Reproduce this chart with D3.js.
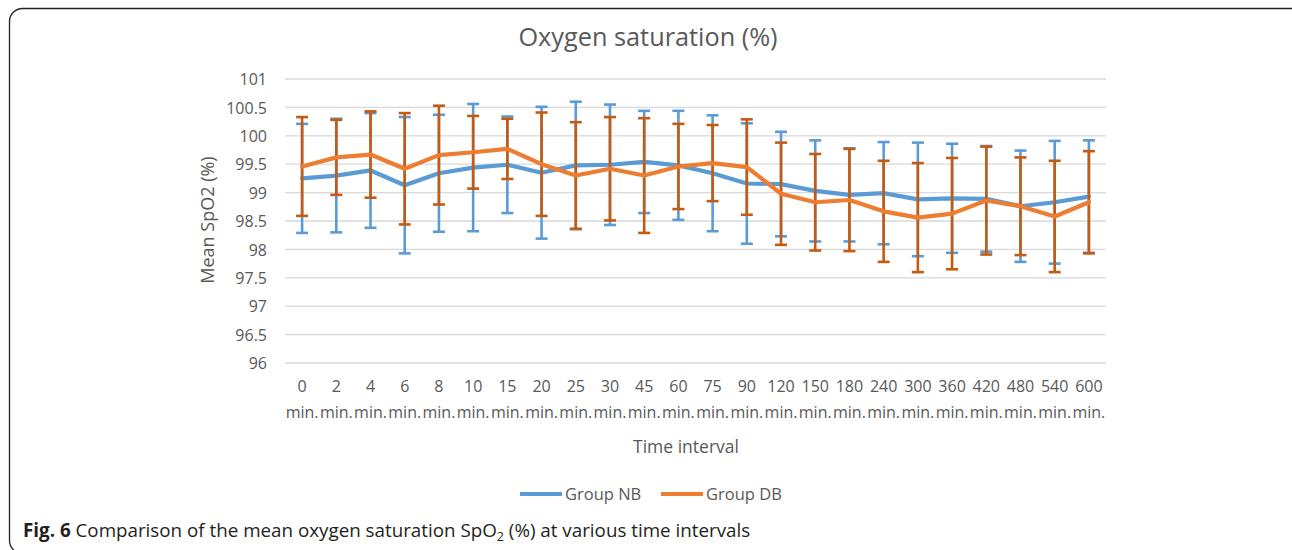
<!DOCTYPE html>
<html>
<head>
<meta charset="utf-8">
<script src="https://cdn.jsdelivr.net/npm/d3@7"></script>
<style>
  html, body { margin: 0; padding: 0; background: #fff; }
  svg { display: block; }
  text { font-family: "Open Sans", "DejaVu Sans", sans-serif; }
</style>
</head>
<body>
<svg id="chart" width="1292" height="550"></svg>
<script>
// ---- Data ----
const categories = ["0", "2", "4", "6", "8", "10", "15", "20", "25", "30", "45", "60", "75", "90",
  "120", "150", "180", "240", "300", "360", "420", "480", "540", "600"];
const nbMean = [99.25, 99.30, 99.39, 99.13, 99.34, 99.44, 99.49, 99.35, 99.48, 99.49, 99.54, 99.48,
  99.34, 99.16, 99.15, 99.03, 98.96, 98.99, 98.88, 98.90, 98.89, 98.76, 98.83, 98.93];
const nbSD = [0.96, 1.00, 1.01, 1.20, 1.03, 1.12, 0.85, 1.16, 1.12, 1.06, 0.90, 0.96,
  1.02, 1.06, 0.92, 0.89, 0.82, 0.90, 1.00, 0.96, 0.93, 0.98, 1.08, 0.99];
const dbMean = [99.46, 99.62, 99.67, 99.42, 99.66, 99.71, 99.77, 99.50, 99.30, 99.42, 99.30, 99.46,
  99.52, 99.45, 98.98, 98.83, 98.87, 98.67, 98.56, 98.63, 98.86, 98.76, 98.58, 98.83];
const dbSD = [0.87, 0.66, 0.76, 0.98, 0.87, 0.64, 0.53, 0.91, 0.94, 0.91, 1.01, 0.75,
  0.67, 0.84, 0.90, 0.85, 0.90, 0.89, 0.96, 0.98, 0.95, 0.86, 0.98, 0.90];
const yTicks = [96, 96.5, 97, 97.5, 98, 98.5, 99, 99.5, 100, 100.5, 101];
const seriesNames = ["Group NB", "Group DB"];

// ---- Layout ----
const svg = d3.select("#chart");
const plot = { left: 285, right: 1106, top: 79, bottom: 363 };
const colNB = "#5B9BD5", colDB = "#ED7D31", colDBerr = "#C55A11";
const textCol = "#595959";

// Border
svg.append("rect")
  .attr("x", 9.5).attr("y", 8.5).attr("width", 1300).attr("height", 545)
  .attr("rx", 13).attr("ry", 13)
  .attr("fill", "none").attr("stroke", "#222").attr("stroke-width", 1.3);

const x = d3.scaleBand().domain(categories).range([plot.left, plot.right]).padding(0);
const y = d3.scaleLinear().domain([96, 101]).range([plot.bottom, plot.top]);

// Gridlines
svg.append("g").selectAll("line").data(yTicks).join("line")
  .attr("x1", plot.left).attr("x2", plot.right)
  .attr("y1", d => y(d)).attr("y2", d => y(d))
  .attr("stroke", "#D9D9D9").attr("stroke-width", 1.3);

// Y axis labels
const yAxis = d3.axisLeft(y).tickValues(yTicks).tickSize(0).tickPadding(0)
  .tickFormat(d => String(d));
const gy = svg.append("g").attr("transform", `translate(${plot.left - 18},0)`).call(yAxis);
gy.select(".domain").remove();
gy.selectAll("text").attr("fill", textCol).style("font-size", "16px")
  .style("font-family", '"Open Sans", sans-serif').attr("dy", "0.35em");

// X axis labels
const xAxis = d3.axisBottom(x).tickSize(0).tickFormat("");
const gx = svg.append("g").attr("transform", `translate(0,${plot.bottom})`).call(xAxis);
gx.select(".domain").remove();
gx.selectAll(".tick").each(function(d) {
  const t = d3.select(this).append("text").attr("fill", textCol)
    .style("font-size", "16px").attr("text-anchor", "middle");
  t.append("tspan").attr("x", 0).attr("y", 29).text(d);
  t.append("tspan").attr("x", 0).attr("y", 55).text("min.");
});

// Axis titles
svg.append("text").attr("x", 686).attr("y", 453).attr("text-anchor", "middle")
  .attr("fill", textCol).style("font-size", "17.5px").text("Time interval");
svg.append("text").attr("transform", `translate(214,${(plot.top + plot.bottom) / 2 - 1}) rotate(-90)`)
  .attr("text-anchor", "middle").attr("fill", textCol).style("font-size", "18px").text("Mean SpO2 (%)");

// Title
svg.append("text").attr("x", 648).attr("y", 46).attr("text-anchor", "middle")
  .attr("fill", textCol).style("font-size", "25.3px").text("Oxygen saturation (%)");

const cx = d => x(d) + x.bandwidth() / 2;
const line = d3.line().x(d => cx(d.c)).y(d => y(d.v));

function makeSeries(means, sds, lineColor, errColor) {
  const data = categories.map((c, i) => ({ c, v: means[i], sd: sds[i] }));
  const g = svg.append("g");
  return { data, g, lineColor, errColor };
}

function drawErr(s) {
  const g = s.g;
  g.selectAll("line.err").data(s.data).join("line").attr("class", "err")
    .attr("x1", d => cx(d.c)).attr("x2", d => cx(d.c))
    .attr("y1", d => y(d.v + d.sd)).attr("y2", d => y(d.v - d.sd))
    .attr("stroke", s.errColor).attr("stroke-width", 2.6);
  ["top", "bot"].forEach(k => {
    g.selectAll("line.cap" + k).data(s.data).join("line").attr("class", "cap" + k)
      .attr("x1", d => cx(d.c) - 6).attr("x2", d => cx(d.c) + 6)
      .attr("y1", d => y(k === "top" ? d.v + d.sd : d.v - d.sd))
      .attr("y2", d => y(k === "top" ? d.v + d.sd : d.v - d.sd))
      .attr("stroke", s.errColor).attr("stroke-width", 2.6);
  });
}
function drawLine(s) {
  s.g.append("path").datum(s.data).attr("d", line)
    .attr("fill", "none").attr("stroke", s.lineColor).attr("stroke-width", 4.2)
    .attr("stroke-linejoin", "round").attr("stroke-linecap", "round");
}

const sNB = makeSeries(nbMean, nbSD, colNB, colNB);
const sDB = makeSeries(dbMean, dbSD, colDB, colDBerr);
drawErr(sNB);
drawLine(sNB);
drawErr(sDB);
drawLine(sDB);

// Legend
const legend = [
  { name: seriesNames[0], color: colNB, x: 520 },
  { name: seriesNames[1], color: colDB, x: 661 }
];
legend.forEach(l => {
  svg.append("line").attr("x1", l.x).attr("x2", l.x + 42).attr("y1", 494).attr("y2", 494)
    .attr("stroke", l.color).attr("stroke-width", 4.2);
  svg.append("text").attr("x", l.x + 45).attr("y", 500).attr("fill", textCol)
    .style("font-size", "16.5px").text(l.name);
});

// Caption
const cap = svg.append("text").attr("x", 23).attr("y", 537).attr("fill", "#231F20")
  .style("font-size", "18.8px");
cap.append("tspan").style("font-weight", "bold").text("Fig. 6");
cap.append("tspan").text(" Comparison of the mean oxygen saturation SpO");
cap.append("tspan").attr("dy", 4).style("font-size", "12.5px").text("2");
cap.append("tspan").attr("dy", -4).text(" (%) at various time intervals");
</script>
</body>
</html>
